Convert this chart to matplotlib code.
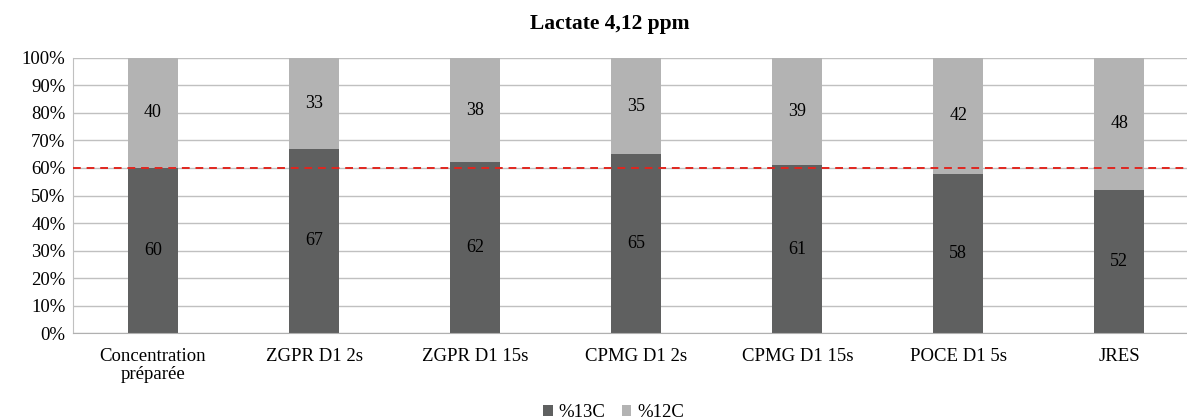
import matplotlib.pyplot as plt
import numpy as np

categories = ["Concentration\npréparée", "ZGPR D1 2s", "ZGPR D1 15s", "CPMG D1 2s",
              "CPMG D1 15s", "POCE D1 5s", "JRES"]
c13 = [60, 67, 62, 65, 61, 58, 52]
c12 = [40, 33, 38, 35, 39, 42, 48]
reference = 60

plt.rcParams['font.family'] = ['Liberation Serif', 'DejaVu Serif']

fig = plt.figure(figsize=(11.87, 4.2), dpi=100)
ax = fig.add_axes([0.0611, 0.207, 0.9389, 0.655])

x = np.arange(len(categories))
w = 0.31
b1 = ax.bar(x, c13, w, color="#5f6060", label="%13C", zorder=2)
b2 = ax.bar(x, c12, w, bottom=c13, color="#b3b3b3", label="%12C", zorder=2)

for i in range(len(x)):
    ax.text(x[i], c13[i] / 2, str(c13[i]), ha="center", va="center", fontsize=13)
    ax.text(x[i], c13[i] + c12[i] / 2, str(c12[i]), ha="center", va="center", fontsize=13)

ax.axhline(reference, color="#e0261f", linestyle=(0, (4, 3)), linewidth=1.4, zorder=3)

# the original plot area runs past the right edge of the picture
ax.set_xlim(-0.5, 6.42)
ax.set_ylim(0, 100)
ax.set_yticks(range(0, 101, 10))
ax.set_yticklabels([f"{v}%" for v in range(0, 101, 10)], fontsize=13.5)
ax.set_xticks(x)
ax.set_xticklabels(categories, fontsize=13.5, linespacing=1.05)
ax.tick_params(axis="x", length=0, pad=11)
ax.tick_params(axis="y", length=0, pad=5)
ax.yaxis.grid(True, color="#c0c0c0", linewidth=1, zorder=0)
ax.set_axisbelow(True)
for s in ["top", "right"]:
    ax.spines[s].set_visible(False)
ax.spines["left"].set_color("#c0c0c0")
ax.spines["bottom"].set_color("#b0b0b0")

fig.text(0.514, 1 - 24 / 420, "Lactate 4,12 ppm", ha="center", va="center",
         fontsize=15.5, fontweight="bold")

fig.legend(handles=[b1, b2], loc="center", bbox_to_anchor=(0.517, 0.017), ncol=2,
           frameon=False, fontsize=13.5, handlelength=0.5, handleheight=0.5,
           handletextpad=0.3, columnspacing=0.9, borderpad=0)

fig.savefig("out.png", dpi=100)
